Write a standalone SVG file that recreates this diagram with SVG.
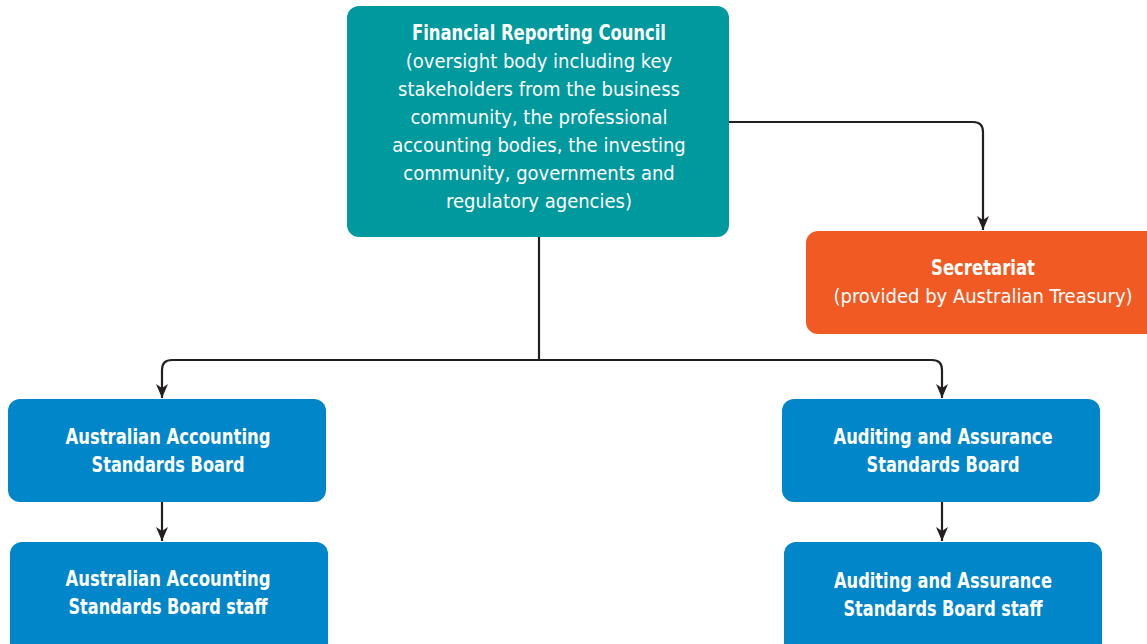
<svg xmlns="http://www.w3.org/2000/svg" width="1147" height="644" viewBox="0 0 1147 644">
  <style>
    .box { stroke: none; }
    .teal { fill: #00999e; }
    .orange { fill: #f15a22; }
    .blue { fill: #0086c9; }
    text { font-family: "Liberation Sans Narrow", "DejaVu Sans Condensed", "Liberation Sans", sans-serif; font-size: 20px; fill: #ffffff; text-anchor: middle; }
    .b { font-weight: bold; font-size: 21px; }
    .wire { fill: none; stroke: #231f20; stroke-width: 2.2; }
  </style>
  <defs>
    <marker id="arrow" viewBox="0 0 14 12" refX="14" refY="6" markerWidth="14" markerHeight="12" markerUnits="userSpaceOnUse" orient="auto">
      <path d="M0,0 L14,6 L0,12 L4,6 z" fill="#231f20"/>
    </marker>
  </defs>

  <g id="connectors">
    <path class="wire" d="M539,237 V360"/>
    <path class="wire" d="M539,360 H172 Q162,360 162,370 V398" marker-end="url(#arrow)"/>
    <path class="wire" d="M539,360 H932 Q942,360 942,370 V398" marker-end="url(#arrow)"/>
    <path class="wire" d="M729,122 H973 Q983,122 983,132 V230" marker-end="url(#arrow)"/>
    <path class="wire" d="M162,502 V541" marker-end="url(#arrow)"/>
    <path class="wire" d="M942,502 V541" marker-end="url(#arrow)"/>
  </g>

  <g id="frc">
    <rect class="box teal" x="347" y="6" width="382" height="231" rx="12"/>
    <text class="b" x="539" y="40" textLength="254" lengthAdjust="spacingAndGlyphs">Financial Reporting Council</text>
    <text x="539" y="68">(oversight body including key</text>
    <text x="539" y="96">stakeholders from the business</text>
    <text x="539" y="124">community, the professional</text>
    <text x="539" y="152">accounting bodies, the investing</text>
    <text x="539" y="180">community, governments and</text>
    <text x="539" y="208">regulatory agencies)</text>
  </g>

  <g id="secretariat">
    <rect class="box orange" x="806" y="231" width="360" height="103" rx="12"/>
    <text class="b" x="983" y="275" textLength="104" lengthAdjust="spacingAndGlyphs">Secretariat</text>
    <text x="983" y="303">(provided by Australian Treasury)</text>
  </g>

  <g id="aasb">
    <rect class="box blue" x="8" y="399" width="318" height="103" rx="12"/>
    <text class="b" x="168" y="444" textLength="205" lengthAdjust="spacingAndGlyphs">Australian Accounting</text>
    <text class="b" x="168" y="472" textLength="153" lengthAdjust="spacingAndGlyphs">Standards Board</text>
  </g>

  <g id="aasb-staff">
    <rect class="box blue" x="10" y="542" width="318" height="115" rx="12"/>
    <text class="b" x="168" y="586" textLength="205" lengthAdjust="spacingAndGlyphs">Australian Accounting</text>
    <text class="b" x="168" y="614" textLength="199" lengthAdjust="spacingAndGlyphs">Standards Board staff</text>
  </g>

  <g id="auasb">
    <rect class="box blue" x="782" y="399" width="318" height="103" rx="12"/>
    <text class="b" x="943" y="444" textLength="219" lengthAdjust="spacingAndGlyphs">Auditing and Assurance</text>
    <text class="b" x="943" y="472" textLength="153" lengthAdjust="spacingAndGlyphs">Standards Board</text>
  </g>

  <g id="auasb-staff">
    <rect class="box blue" x="784" y="542" width="318" height="115" rx="12"/>
    <text class="b" x="943" y="588" textLength="218" lengthAdjust="spacingAndGlyphs">Auditing and Assurance</text>
    <text class="b" x="943" y="616" textLength="199" lengthAdjust="spacingAndGlyphs">Standards Board staff</text>
  </g>
</svg>
